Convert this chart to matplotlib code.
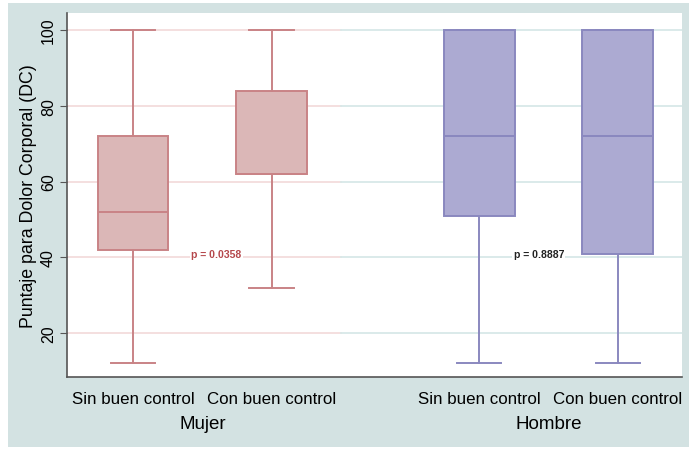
import matplotlib.pyplot as plt
from matplotlib.patches import Rectangle

plt.rcParams['font.family'] = ['Liberation Sans', 'DejaVu Sans']

# box statistics
groups = ['Mujer', 'Hombre']
controls = ['Sin buen control', 'Con buen control']
whislo = [12, 32, 12, 12]
q1 = [42, 62, 51, 41]
med = [52, 62, 72, 72]
q3 = [72, 84, 100, 100]
whishi = [100, 100, 100, 100]
positions = [1, 2, 3.5, 4.5]
p_values = ['p = 0.0358', 'p = 0.8887']

pink_fill, pink_edge = '#dbb7b7', '#c98386'
purple_fill, purple_edge = '#acaad2', '#8a88bf'

fig = plt.figure(figsize=(6.89, 4.52), dpi=100, facecolor='white')
fig.add_artist(Rectangle((8 / 689, 4 / 452), 681 / 689, 444 / 452,
                         transform=fig.transFigure, facecolor='#d3e2e2',
                         edgecolor='none', zorder=-5))
ax = fig.add_axes([67 / 689, 74 / 452, 615 / 689, 364 / 452])
ax.set_zorder(1)
ax.set_facecolor('white')

ax.set_xlim(0.522, 4.964)
ax.set_ylim(8.4, 104.5)

# gridlines: pink in the Mujer panel, pale teal in the Hombre panel
for y in [20, 40, 60, 80, 100]:
    ax.plot([0.522, 2.5], [y, y], color='#f3dcdc', lw=1.3, zorder=1)
    ax.plot([2.5, 4.964], [y, y], color='#d8e8e8', lw=1.3, zorder=1)

stats = []
for i in range(4):
    stats.append({'whislo': whislo[i], 'q1': q1[i], 'med': med[i],
                  'q3': q3[i], 'whishi': whishi[i], 'fliers': []})

for i in range(4):
    fill, edge = (pink_fill, pink_edge) if i < 2 else (purple_fill, purple_edge)
    ax.bxp([stats[i]], positions=[positions[i]], widths=0.51, patch_artist=True,
           showfliers=False, manage_ticks=False,
           boxprops=dict(facecolor=fill, edgecolor=edge, lw=1.4),
           medianprops=dict(color=edge, lw=1.4),
           whiskerprops=dict(color=edge, lw=1.4),
           capprops=dict(color=edge, lw=1.4), capwidths=0.32)

ax.text(1.60, 40.8, p_values[0], fontsize=7.6, fontweight='bold', color='#b5484c',
        ha='center', va='center', zorder=3,
        bbox=dict(facecolor='white', edgecolor='none', pad=1))
ax.text(3.93, 40.8, p_values[1], fontsize=7.6, fontweight='bold', color='#222222',
        ha='center', va='center', zorder=3,
        bbox=dict(facecolor='white', edgecolor='none', pad=1))

ax.set_xticks(positions)
ax.set_xticklabels(controls * 2, fontsize=12.2)
ax.tick_params(axis='x', length=0, pad=10)
ax.set_yticks([20, 40, 60, 80, 100])
ax.set_yticklabels(['20', '40', '60', '80', '100'], rotation=90, va='center', fontsize=11.5)
ax.tick_params(axis='y', length=5, color='#555555', pad=3)
ax.set_ylabel('Puntaje para Dolor Corporal (DC)', fontsize=12.8, labelpad=3)

for i, g in enumerate(groups):
    ax.text((positions[2 * i] + positions[2 * i + 1]) / 2, -0.129, g, fontsize=13.5,
            ha='center', va='center', transform=ax.get_xaxis_transform())

for s in ['top', 'right']:
    ax.spines[s].set_visible(False)
for s in ['left', 'bottom']:
    ax.spines[s].set_color('#555555')
    ax.spines[s].set_linewidth(1.2)

fig.savefig('out.png', dpi=100, facecolor=fig.get_facecolor())
